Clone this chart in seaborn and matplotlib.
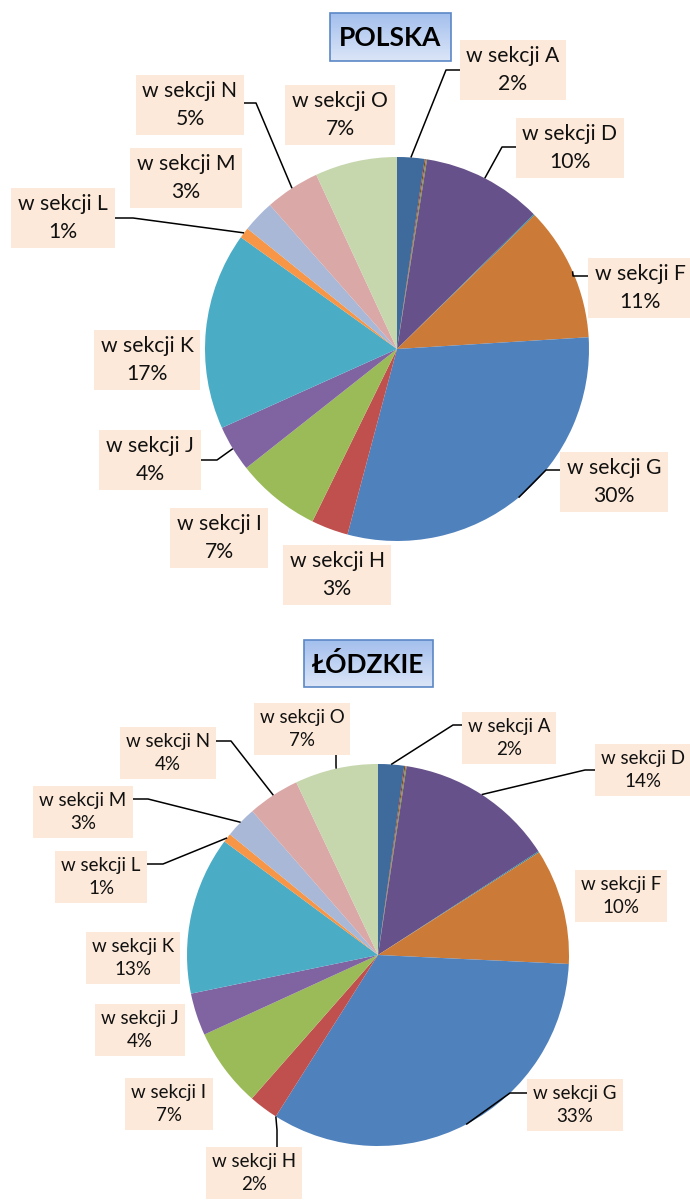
import numpy as np
import matplotlib.pyplot as plt
import seaborn as sns
from matplotlib.patches import Rectangle

# sekcje PKD (B, C, E are tiny slivers without labels)
sections = ["A", "B", "C", "D", "E", "F", "G", "H", "I", "J", "K", "L", "M", "N", "O"]

polska_values = [2.3, 0.1, 0.1, 10.1, 0.1, 11.3, 30.1, 3.1, 7.1, 3.9, 16.6, 0.9, 2.7, 4.6, 6.9]
lodzkie_values = [2.2, 0.1, 0.1, 13.5, 0.1, 9.8, 33.3, 2.5, 6.7, 3.6, 13.4, 0.75, 2.7, 4.4, 7.05]

polska_pct = ["2%", "", "", "10%", "", "11%", "30%", "3%", "7%", "4%", "17%", "1%", "3%", "5%", "7%"]
lodzkie_pct = ["2%", "", "", "14%", "", "10%", "33%", "2%", "7%", "4%", "13%", "1%", "3%", "4%", "7%"]

colors = ["#3E6A9C", "#953735", "#77933C", "#67518A", "#31859C", "#CC7A37",
          "#4F81BD", "#C0504D", "#9BBB59", "#8064A2", "#4BACC6", "#F79646",
          "#A9B8D7", "#DAA8A7", "#C6D6AD"]

# label layout: section -> (box centre, elbow of leader line or None, side, position in wedge)
polska_layout = {
    "A": ((513, 70), (446, 70), "h", 0.5),
    "D": ((570, 148), (502, 147), "h", 0.5),
    "F": ((640, 288), (573, 276), "h", 0.5),
    "G": ((614, 482), (546, 470), "h", 0.5),
    "H": ((337, 575), None, "h", 0.5),
    "I": ((219, 538), None, "h", 0.5),
    "J": ((150, 460), (217, 460), "h", 0.5),
    "K": ((147, 360), None, "h", 0.5),
    "L": ((63, 218), (133, 218), "h", 0.5),
    "M": ((186, 178), None, "h", 0.5),
    "N": ((190, 105), (256, 103), "h", 0.5),
    "O": ((340, 115), None, "h", 0.5),
}
lodzkie_layout = {
    "A": ((509, 738), (453, 725), "h", 0.5),
    "D": ((643, 770), (585, 770), "h", 0.5),
    "F": ((621, 896), None, "h", 0.5),
    "G": ((575, 1105), (510, 1093), "h", 0.5),
    "H": ((254, 1173), (277, 1130), "v", 0.0),
    "I": ((169, 1104), None, "h", 0.5),
    "J": ((140, 1030), None, "h", 0.5),
    "K": ((133, 958), None, "h", 0.5),
    "L": ((101, 877), (163, 864), "h", 0.5),
    "M": ((83, 812), (148, 799), "h", 0.5),
    "N": ((168, 753), (231, 741), "h", 0.5),
    "O": ((302, 729), (336, 765), "v", 0.5),
}

sns.set_theme(style="white")
plt.rcParams["font.family"] = ["Lato", "DejaVu Sans"]

fig = plt.figure(figsize=(6.9, 12.01), dpi=100)
ax = fig.add_axes([0, 0, 1, 1])
palette = sns.color_palette(colors)


def draw_pie(values, pct, layout, center, radius, fs, pad):
    wedges, _ = ax.pie(values, colors=palette, center=center, radius=radius,
                       startangle=-90, counterclock=True,
                       wedgeprops=dict(linewidth=0))
    for sec, w, txt in zip(sections, wedges, pct):
        if sec not in layout:
            continue
        (bx, by), elbow, side, frac = layout[sec]
        if elbow is not None:
            th = np.deg2rad(w.theta1 + frac * (w.theta2 - w.theta1))
            ax_ = center[0] + radius * np.cos(th)
            ay_ = center[1] + radius * np.sin(th)
            end = (bx, elbow[1]) if side == "h" else (elbow[0], by)
            ax.plot([ax_, elbow[0], end[0]], [ay_, elbow[1], end[1]],
                    color="black", lw=1.1, zorder=3, solid_capstyle="butt")
        ax.text(bx, by, f"w sekcji {sec}\n{txt}", ha="center", va="center",
                fontsize=fs, color="#111111", linespacing=1.45, zorder=5,
                bbox=dict(boxstyle=f"square,pad={pad}", fc="#FDE9D9", ec="none"))


def title_box(x0, y0, x1, y1, text):
    grad = np.linspace(0, 1, 64)[:, None, None]
    top = np.array([0.64, 0.75, 0.93])
    bottom = np.array([0.86, 0.90, 0.97])
    img = top * (1 - grad) + bottom * grad
    ax.imshow(img, extent=(x0, x1, y1, y0), aspect="auto", zorder=4)
    ax.add_patch(Rectangle((x0, y0), x1 - x0, y1 - y0, fill=False,
                           ec="#5B87C6", lw=1.2, zorder=5))
    ax.text((x0 + x1) / 2, (y0 + y1) / 2 + 1, text, ha="center", va="center",
            fontsize=19, fontweight="bold", color="black", zorder=6)


draw_pie(polska_values, polska_pct, polska_layout, (397, 349), 192, 15.2, 0.32)
draw_pie(lodzkie_values, lodzkie_pct, lodzkie_layout, (378, 955), 191, 13.5, 0.32)

title_box(330, 13, 451, 61, "POLSKA")
title_box(304, 640, 433, 687, "ŁÓDZKIE")

ax.set_xlim(0, 690)
ax.set_ylim(1201, 0)
ax.set_aspect("equal")
ax.axis("off")

fig.savefig("out.png", dpi=100, facecolor="white")
